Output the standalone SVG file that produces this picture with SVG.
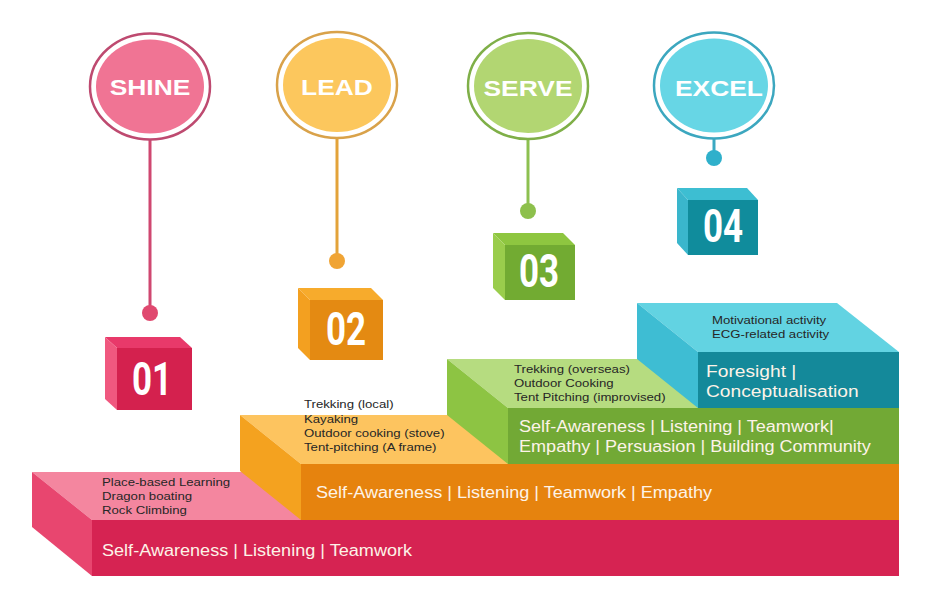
<svg xmlns="http://www.w3.org/2000/svg" width="929" height="609" viewBox="0 0 929 609">
  <style>
    .lbl { font-family: "Liberation Sans", Arial, sans-serif; font-weight: bold; font-size: 22px; fill: #ffffff; text-anchor: middle; }
    .num { font-family: Roboto, "Liberation Sans", sans-serif; font-weight: bold; font-size: 46px; fill: #ffffff; text-anchor: middle; }
    .big { font-family: "Liberation Sans", Arial, sans-serif; font-size: 16px; fill: #fdf3e8; }
    .big17 { font-family: "Liberation Sans", Arial, sans-serif; font-size: 17px; fill: #fdf3e8; }
    .act { font-family: "Liberation Sans", Arial, sans-serif; font-size: 11px; fill: #262626; }
    .ring { fill: #ffffff; stroke-width: 2.5; }
    .stem { stroke-width: 3; fill: none; }
  </style>
  <rect width="929" height="609" fill="#ffffff"/>

  <!-- staircase, lowest step first -->
  <g id="step-1">
    <polygon points="32,472 838,472 899,520 92,520" fill="#f4869f"/>
    <polygon points="32,472 92,520 92,576 32,527" fill="#e8466f"/>
    <rect x="92" y="520" width="807" height="56" fill="#d62352"/>
    <text class="act" transform="translate(102 486) scale(1.2 1)">Place-based Learning</text>
    <text class="act" transform="translate(102 500) scale(1.2 1)">Dragon boating</text>
    <text class="act" transform="translate(102 514) scale(1.2 1)">Rock Climbing</text>
    <text class="big" transform="translate(102 556) scale(1.13 1)">Self-Awareness | Listening | Teamwork</text>
  </g>

  <g id="step-2">
    <polygon points="240,415 838,415 899,464 301,464" fill="#fdc45f"/>
    <polygon points="240,415 301,464 301,520 240,471" fill="#f4a21f"/>
    <rect x="301" y="464" width="598" height="56" fill="#e6830e"/>
    <text class="act" transform="translate(304 408) scale(1.2 1)">Trekking (local)</text>
    <text class="act" transform="translate(304 422.5) scale(1.2 1)">Kayaking</text>
    <text class="act" transform="translate(304 437) scale(1.2 1)">Outdoor cooking (stove)</text>
    <text class="act" transform="translate(304 451) scale(1.2 1)">Tent-pitching (A frame)</text>
    <text class="big" transform="translate(316 498) scale(1.13 1)">Self-Awareness | Listening | Teamwork | Empathy</text>
  </g>

  <g id="step-3">
    <polygon points="447,359 838,359 899,408 508,408" fill="#b6dc80"/>
    <polygon points="447,359 508,408 508,464 447,415" fill="#8dc443"/>
    <rect x="508" y="408" width="391" height="56" fill="#72a935"/>
    <text class="act" transform="translate(514 373) scale(1.2 1)">Trekking (overseas)</text>
    <text class="act" transform="translate(514 387) scale(1.2 1)">Outdoor Cooking</text>
    <text class="act" transform="translate(514 401) scale(1.2 1)">Tent Pitching (improvised)</text>
    <text class="big" transform="translate(519 432) scale(1.13 1)">Self-Awareness | Listening | Teamwork|</text>
    <text class="big" transform="translate(519 452) scale(1.13 1)">Empathy | Persuasion | Building Community</text>
  </g>

  <g id="step-4">
    <polygon points="637,303 837,303 899,352 698,352" fill="#62d3e2"/>
    <polygon points="637,303 698,352 698,408 637,359" fill="#3ebdd3"/>
    <rect x="698" y="352" width="201" height="56" fill="#14899a"/>
    <text class="act" transform="translate(712 324) scale(1.2 1)">Motivational activity</text>
    <text class="act" transform="translate(712 338) scale(1.2 1)">ECG-related activity</text>
    <text class="big17" transform="translate(706 377) scale(1.13 1)">Foresight |</text>
    <text class="big17" transform="translate(706 397) scale(1.13 1)">Conceptualisation</text>
  </g>

  <!-- numbered cubes -->
  <g id="cube-01">
    <polygon points="105,337 180,337 192,348 117,348" fill="#e8396a"/>
    <polygon points="105,337 117,348 117,410 105,399" fill="#f0587f"/>
    <rect x="117" y="348" width="75" height="62" fill="#d4214e"/>
    <text class="num" transform="translate(152 395) scale(0.76 1)">01</text>
  </g>
  <g id="cube-02">
    <polygon points="298,288 371,288 383,300 310,300" fill="#f7ab2c"/>
    <polygon points="298,288 310,300 310,360 298,348" fill="#f3a020"/>
    <rect x="310" y="300" width="73" height="60" fill="#e48a12"/>
    <text class="num" transform="translate(346 345) scale(0.76 1)">02</text>
  </g>
  <g id="cube-03">
    <polygon points="493,233 563,233 575,245 505,245" fill="#8ec640"/>
    <polygon points="493,233 505,245 505,300 493,288" fill="#9acd4c"/>
    <rect x="505" y="245" width="70" height="55" fill="#72ab32"/>
    <text class="num" transform="translate(539 287) scale(0.76 1)">03</text>
  </g>
  <g id="cube-04">
    <polygon points="677,188 747,188 758,200 688,200" fill="#3dbed2"/>
    <polygon points="677,188 688,200 688,255 677,243" fill="#3ab6cc"/>
    <rect x="688" y="200" width="70" height="55" fill="#108c9c"/>
    <text class="num" transform="translate(723 242) scale(0.76 1)">04</text>
  </g>

  <!-- stems from each badge down to its cube -->
  <g id="connectors">
    <line class="stem" x1="150" y1="139" x2="150" y2="313" stroke="#cf4770"/>
    <circle cx="150" cy="313" r="8" fill="#e0496f"/>
    <line class="stem" x1="337" y1="138" x2="337" y2="261" stroke="#e3a33a"/>
    <circle cx="337" cy="261" r="8" fill="#f0a434"/>
    <line class="stem" x1="528" y1="139" x2="528" y2="211" stroke="#8dc050"/>
    <circle cx="528" cy="211" r="8" fill="#8dc04c"/>
    <line class="stem" x1="714" y1="138" x2="714" y2="158" stroke="#3ba9c2"/>
    <circle cx="714" cy="158" r="8" fill="#2fb0cb"/>
  </g>

  <!-- round badges -->
  <g id="badge-shine">
    <ellipse class="ring" cx="150" cy="86.5" rx="60" ry="53" stroke="#be4a70"/>
    <ellipse cx="150" cy="86.5" rx="54" ry="47" fill="#f07494"/>
    <text class="lbl" transform="translate(150 95) scale(1.2 1)">SHINE</text>
  </g>
  <g id="badge-lead">
    <ellipse class="ring" cx="337" cy="85" rx="60" ry="53" stroke="#d9a24a"/>
    <ellipse cx="337" cy="85" rx="54" ry="47" fill="#fcc75d"/>
    <text class="lbl" transform="translate(337 95) scale(1.2 1)">LEAD</text>
  </g>
  <g id="badge-serve">
    <ellipse class="ring" cx="528" cy="86" rx="60" ry="53" stroke="#7faf48"/>
    <ellipse cx="528" cy="86" rx="54" ry="47" fill="#b2d672"/>
    <text class="lbl" transform="translate(528 96) scale(1.2 1)">SERVE</text>
  </g>
  <g id="badge-excel">
    <ellipse class="ring" cx="714" cy="85.5" rx="60" ry="53" stroke="#3ca7bf"/>
    <ellipse cx="714" cy="85.5" rx="54" ry="47" fill="#67d6e5"/>
    <text class="lbl" transform="translate(719 96) scale(1.2 1)">EXCEL</text>
  </g>
</svg>
